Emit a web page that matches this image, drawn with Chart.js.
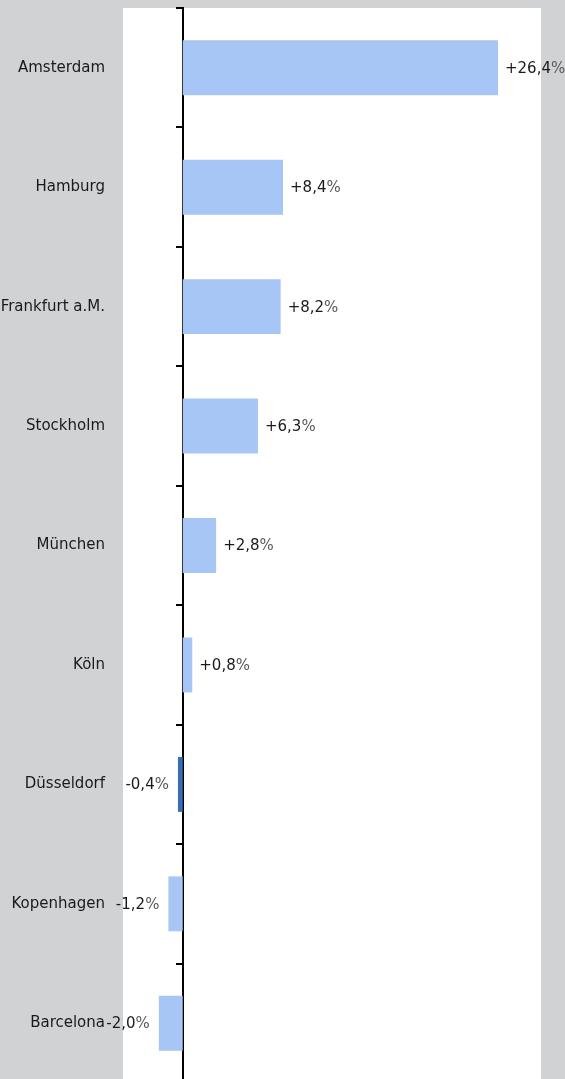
<!DOCTYPE html>
<html>
<head>
<meta charset="utf-8">
<script src="https://cdn.jsdelivr.net/npm/chart.js@4/dist/chart.umd.min.js"></script>
<style>
  html, body { margin: 0; padding: 0; background: #d1d2d4; overflow: hidden; }
  #wrap { position: relative; width: 565px; height: 1083px; }
</style>
</head>
<body>
<div id="wrap"><canvas id="c"></canvas></div>
<script>
// Change in percent per city
const cities = ['Amsterdam', 'Hamburg', 'Frankfurt a.M.', 'Stockholm', 'München', 'Köln', 'Düsseldorf', 'Kopenhagen', 'Barcelona'];
const changes = [26.4, 8.4, 8.2, 6.3, 2.8, 0.8, -0.4, -1.2, -2.0];
const valueLabels = ['+26,4', '+8,4', '+8,2', '+6,3', '+2,8', '+0,8', '-0,4', '-1,2', '-2,0'];
const highlightCity = 'Düsseldorf';

const FONT = '"DejaVu Sans", sans-serif';

// White plot panel
const panelBg = {
  id: 'panelBg',
  beforeDraw(chart) {
    const { ctx, chartArea: a } = chart;
    ctx.save();
    ctx.fillStyle = '#ffffff';
    ctx.fillRect(a.left, a.top, a.right - a.left, a.bottom - a.top);
    ctx.restore();
  }
};

// Value labels beside each bar
const valueText = {
  id: 'valueText',
  afterDatasetsDraw(chart) {
    const { ctx } = chart;
    const meta = chart.getDatasetMeta(0);
    ctx.save();
    ctx.font = '15px ' + FONT;
    ctx.textBaseline = 'middle';
    meta.data.forEach((bar, i) => {
      const num = valueLabels[i];
      const pct = '%';
      const wNum = ctx.measureText(num).width;
      const wPct = ctx.measureText(pct).width;
      let x;
      if (changes[i] >= 0) {
        x = bar.x + 7;
      } else {
        x = bar.x - 9 - wNum - wPct;
      }
      ctx.fillStyle = '#1a1a1a';
      ctx.fillText(num, x, bar.y + 1);
      ctx.fillStyle = '#5a5a5a';
      ctx.fillText(pct, x + wNum, bar.y + 1);
    });
    ctx.restore();
  }
};

new Chart(document.getElementById('c'), {
  type: 'bar',
  data: {
    labels: cities,
    datasets: [{
      data: changes,
      backgroundColor: cities.map(c => c === highlightCity ? '#3a6cb6' : '#a7c6f5'),
      borderWidth: 0,
      barPercentage: 0.46,
      categoryPercentage: 1
    }]
  },
  options: {
    indexAxis: 'y',
    responsive: true,
    maintainAspectRatio: false,
    animation: false,
    layout: { padding: { top: 8, right: 24, left: 0, bottom: 0 } },
    plugins: { legend: { display: false }, tooltip: { enabled: false } },
    scales: {
      x: {
        type: 'linear',
        min: -5,
        max: 30,
        display: false
      },
      y: {
        type: 'category',
        position: 'left',
        offset: true,
        grid: { display: false, drawTicks: false },
        border: { display: false },
        ticks: {
          color: '#1a1a1a',
          font: { family: FONT, size: 15 },
          padding: 18
        },
        afterFit(scale) {
          scale.width = 123;
          scale.paddingTop = 0;
          scale.paddingBottom = 0;
        }
      },
      zero: {
        type: 'category',
        axis: 'y',
        position: { x: 0 },
        offset: true,
        z: 1,
        grid: {
          offset: true,
          drawOnChartArea: false,
          drawTicks: true,
          tickLength: 6,
          color: '#000000',
          lineWidth: 2
        },
        border: { display: true, color: '#000000', width: 2 },
        ticks: { display: false }
      }
    }
  },
  plugins: [panelBg, valueText]
});
</script>
</body>
</html>
